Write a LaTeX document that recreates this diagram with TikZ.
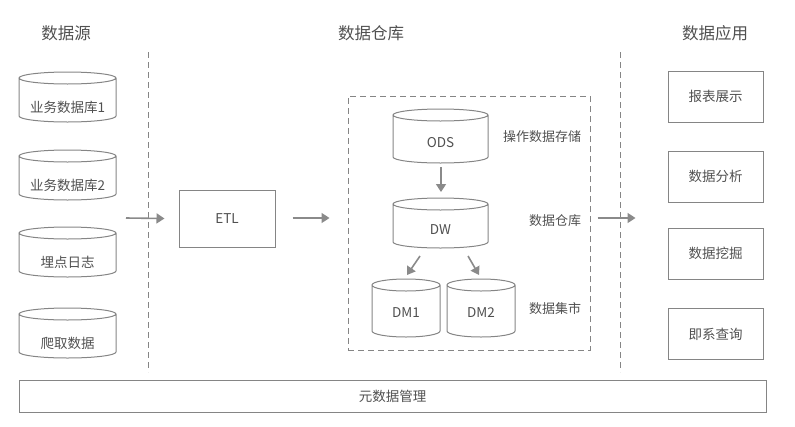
\documentclass[tikz,border=0pt]{standalone}
\usepackage{fontspec}
\setmainfont{Noto Sans CJK SC}
\usetikzlibrary{arrows.meta}
\definecolor{lncol}{HTML}{858585}
\definecolor{txcol}{HTML}{505050}
\definecolor{arcol}{HTML}{8A8A8A}
\tikzset{
  cylline/.style={draw=lncol, line width=1pt},
  cylbox/.style={draw=none, inner sep=0pt, outer sep=0pt},
  boxnode/.style={draw=lncol, line width=1pt, inner sep=0pt, text=txcol, font=\fontsize{13.5}{16}\selectfont},
  txt/.style={text=txcol, inner sep=0pt, font=\fontsize{13.5}{16}\selectfont},
  sidelabel/.style={text=txcol, inner sep=0pt, font=\fontsize{13}{16}\selectfont},
  title/.style={text=txcol, inner sep=0pt, font=\fontsize{16.5}{20}\selectfont},
  arr/.style={draw=arcol, line width=1.6pt, -{Triangle[length=8pt,width=10pt]}},
  sep/.style={draw=lncol, line width=1pt, dash pattern=on 6pt off 4pt},
}
\newcommand{\mycyl}[5]{%
  \node[cylbox, minimum width=#4pt, minimum height=#5pt] (#1) at (#2,-#3) {};
  \draw[cylline] ([yshift=-6pt]#1.north west) -- ([yshift=6pt]#1.south west)
     arc[start angle=180, end angle=360, x radius=#4/2, y radius=6]
     -- ([yshift=-6pt]#1.north east)
     arc[start angle=0, end angle=360, x radius=#4/2, y radius=6];
}
\begin{document}
\begin{tikzpicture}[x=1pt,y=1pt]
\useasboundingbox (0,0) rectangle (795,-426);
% titles
\node[title] (t1) at (66,-33) {数据源};
\node[title] (t2) at (371,-33) {数据仓库};
\node[title] (t3) at (715,-33) {数据应用};
% separators
\coordinate (s1a) at (148,-52); \coordinate (s1b) at (148,-372);
\coordinate (s2a) at (620,-52); \coordinate (s2b) at (620,-372);
\draw[sep] (s1a) -- (s1b);
\draw[sep] (s2a) -- (s2b);
% sources
\mycyl{c1}{67.5}{97}{97}{50}
\node[txt] (c1t) at ([yshift=-10pt]c1.center) {业务数据库1};
\mycyl{c2}{67.5}{175}{97}{50}
\node[txt] (c2t) at ([yshift=-10pt]c2.center) {业务数据库2};
\mycyl{c3}{67.5}{252}{97}{50}
\node[txt] (c3t) at ([yshift=-10pt]c3.center) {埋点日志};
\mycyl{c4}{67.5}{333}{97}{50}
\node[txt] (c4t) at ([yshift=-10pt]c4.center) {爬取数据};
% ETL
\node[boxnode, minimum width=96pt, minimum height=57pt] (etl) at (227,-218.5) {ETL};
% warehouse dashed box
\node[draw=lncol, line width=1pt, dash pattern=on 6pt off 4pt, minimum width=242pt, minimum height=254pt, inner sep=0pt] (dwh) at (469,-223) {};
\mycyl{ods}{440.5}{136}{95}{54}
\node[txt] (odst) at ([yshift=-7pt]ods.center) {ODS};
\mycyl{dw}{440.5}{223}{95}{50}
\node[txt] (dwt) at ([yshift=-7pt]dw.center) {DW};
\mycyl{dm1}{406}{308}{68}{58}
\node[txt] (dm1t) at ([yshift=-5pt]dm1.center) {DM1};
\mycyl{dm2}{481}{308}{68}{58}
\node[txt] (dm2t) at ([yshift=-5pt]dm2.center) {DM2};
\node[sidelabel] (l1) at (542,-137) {操作数据存储};
\node[sidelabel] (l2) at (555,-221) {数据仓库};
\node[sidelabel] (l3) at (555,-309) {数据集市};
% applications
\node[boxnode, minimum width=95pt, minimum height=51pt] (a1) at (715.5,-96.5) {报表展示};
\node[boxnode, minimum width=95pt, minimum height=51pt] (a2) at (715.5,-176.5) {数据分析};
\node[boxnode, minimum width=95pt, minimum height=51pt] (a3) at (715.5,-253.5) {数据挖掘};
\node[boxnode, minimum width=95pt, minimum height=51pt] (a4) at (715.5,-334) {即系查询};
% metadata
\node[boxnode, minimum width=747pt, minimum height=32pt] (meta) at (392.5,-396) {元数据管理};
% arrows
\coordinate (in1) at (126,-218);
\draw[arr] (in1) -- ([xshift=-14pt]etl.west);
\draw[arr] ([xshift=17pt,yshift=0.5pt]etl.east) -- ([xshift=-18pt,yshift=5pt]dwh.west);
\draw[arr] ([xshift=7pt,yshift=5pt]dwh.east) -- ([xshift=-32pt,yshift=-41.5pt]a2.west);
\draw[arr] ([xshift=0.5pt,yshift=-4pt]ods.south) -- ([xshift=0.5pt,yshift=6pt]dw.north);
\draw[arr] ([xshift=-20.5pt,yshift=-8pt]dw.south) -- ([xshift=1pt,yshift=4pt]dm1.north);
\draw[arr] ([xshift=27.5pt,yshift=-8pt]dw.south) -- ([xshift=-2pt,yshift=4pt]dm2.north);
\end{tikzpicture}
\end{document}
